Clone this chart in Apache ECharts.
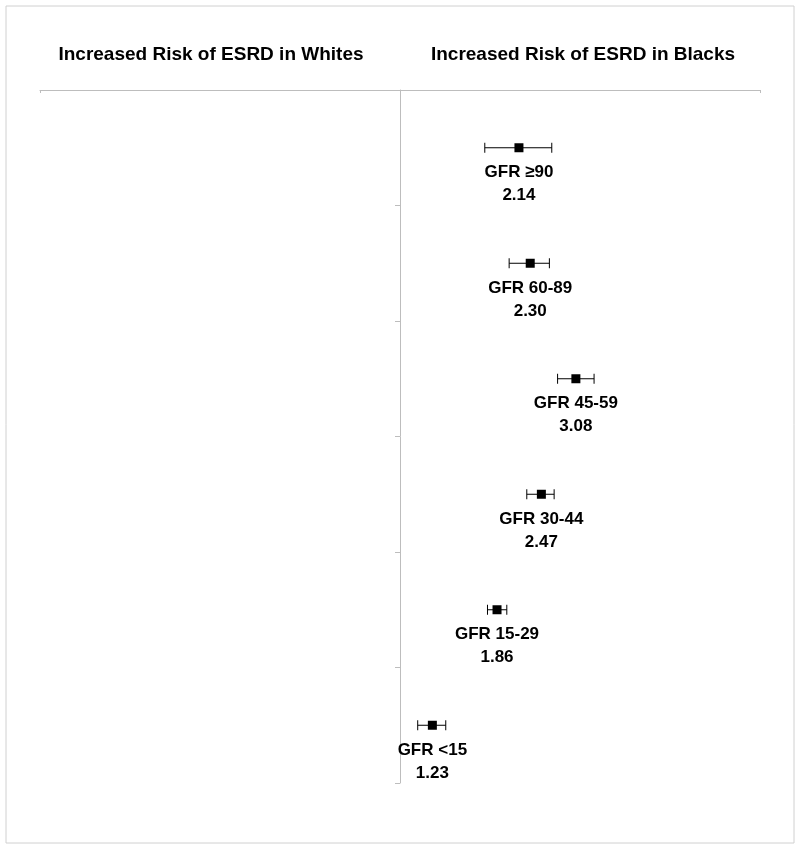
<!DOCTYPE html>
<html>
<head>
<meta charset="utf-8">
<script src="https://cdn.jsdelivr.net/npm/echarts@6/dist/echarts.min.js"></script>
<style>
  html, body { margin: 0; padding: 0; background: #fff; }
  #chart { width: 800px; height: 848px; }
</style>
</head>
<body>
<div id="chart"></div>
<script>
// GFR groups, top to bottom
const categories = ["GFR ≥90", "GFR 60-89", "GFR 45-59", "GFR 30-44", "GFR 15-29", "GFR <15"];
// hazard ratio (blacks vs whites) and 95% CI
const hr = [2.14, 2.30, 3.08, 2.47, 1.86, 1.23];
const lower = [1.72, 2.01, 2.74, 2.25, 1.75, 1.12];
const upper = [2.64, 2.60, 3.46, 2.68, 1.98, 1.34];
const headings = ["Increased Risk of ESRD in Whites", "Increased Risk of ESRD in Blacks"];

const chart = echarts.init(document.getElementById("chart"));

const pointData = hr.map((v, i) => [v, i]);
const barData = hr.map((v, i) => [i, lower[i], upper[i]]);

const option = {
  animation: false,
  backgroundColor: "#fff",
  graphic: [
    {
      type: "rect",
      shape: { x: 6, y: 6, width: 788, height: 837 },
      style: { fill: "none", stroke: "#d0d0d0", lineWidth: 1 },
    },
    {
      type: "text",
      x: 211,
      y: 55,
      style: {
        text: headings[0],
        fill: "#000",
        font: "bold 19px Liberation Sans",
        align: "center",
        verticalAlign: "middle",
      },
    },
    {
      type: "text",
      x: 583,
      y: 55,
      style: {
        text: headings[1],
        fill: "#000",
        font: "bold 19px Liberation Sans",
        align: "center",
        verticalAlign: "middle",
      },
    },
  ],
  grid: {
    left: 40,
    right: 40,
    top: 90,
    bottom: 65,
  },
  xAxis: {
    type: "log",
    logBase: 10,
    min: 0.1,
    max: 10,
    position: "top",
    axisLine: { show: true, lineStyle: { color: "#bdbdbd", width: 1 } },
    axisTick: { show: true, inside: true, length: 3, lineStyle: { color: "#bdbdbd" } },
    axisLabel: { show: false },
    splitLine: { show: false },
    minorTick: { show: false },
  },
  yAxis: {
    type: "category",
    data: categories,
    inverse: true,
    position: "left",
    offset: -360,
    axisLine: { show: true, lineStyle: { color: "#bdbdbd", width: 1 } },
    axisTick: { show: true, length: 5, lineStyle: { color: "#bdbdbd" } },
    axisLabel: { show: false },
    splitLine: { show: false },
  },
  series: [
    {
      // confidence interval whiskers
      type: "custom",
      data: barData,
      encode: { y: 0, x: [1, 2] },
      renderItem: function (params, api) {
        const cat = api.value(0);
        const lo = api.coord([api.value(1), cat]);
        const hi = api.coord([api.value(2), cat]);
        const cap = 5;
        const style = { stroke: "#000", lineWidth: 1 };
        return {
          type: "group",
          children: [
            { type: "line", shape: { x1: lo[0], y1: lo[1], x2: hi[0], y2: hi[1] }, style: style },
            { type: "line", shape: { x1: lo[0], y1: lo[1] - cap, x2: lo[0], y2: lo[1] + cap }, style: style },
            { type: "line", shape: { x1: hi[0], y1: hi[1] - cap, x2: hi[0], y2: hi[1] + cap }, style: style },
          ],
        };
      },
      z: 2,
    },
    {
      type: "scatter",
      data: pointData,
      symbol: "rect",
      symbolSize: 9,
      itemStyle: { color: "#000", opacity: 1 },
      label: {
        show: true,
        position: "bottom",
        distance: 9,
        color: "#000",
        fontFamily: "Liberation Sans",
        fontWeight: "bold",
        fontSize: 17,
        lineHeight: 23,
        align: "center",
        formatter: function (p) {
          return categories[p.dataIndex] + "\n" + hr[p.dataIndex].toFixed(2);
        },
      },
      z: 3,
    },
  ],
};

chart.setOption(option);
</script>
</body>
</html>
